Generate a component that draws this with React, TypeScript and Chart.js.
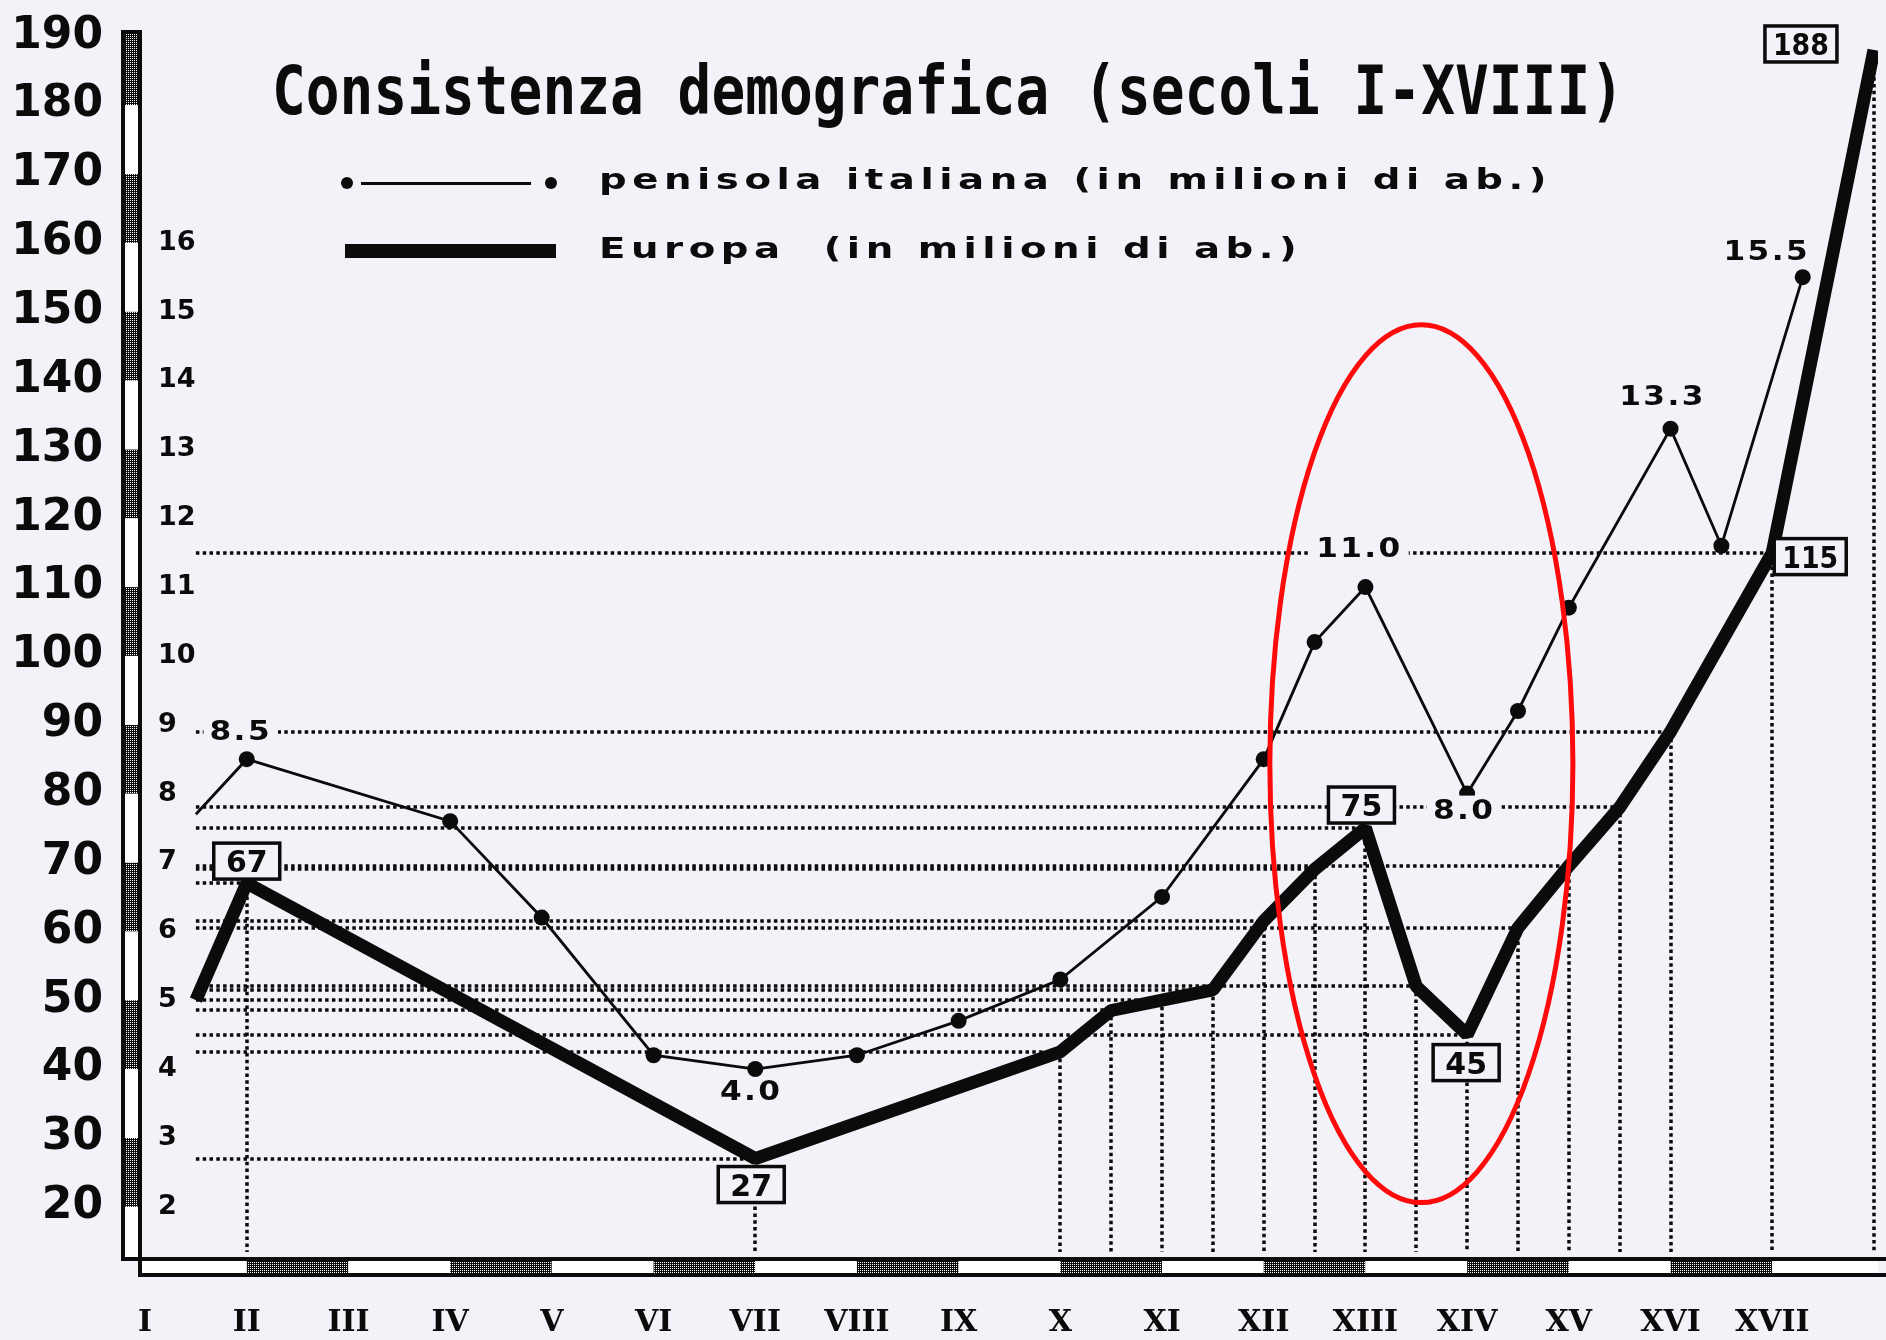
import { useEffect, useRef } from "react";
import { Chart, registerables } from "chart.js";

Chart.register(...registerables);

const CANVAS_W = 1886;
const CANVAS_H = 1340;

// ---------------- data ----------------
const centuryLabels = ["I", "II", "III", "IV", "V", "VI", "VII", "VIII", "IX", "X", "XI", "XII", "XIII", "XIV", "XV", "XVI", "XVII"];
const centuryTicks = [1, 2, 3, 4, 5, 6, 7, 8, 9, 10, 11, 12, 13, 14, 15, 16, 17];
const europeAxisTicks = [20, 30, 40, 50, 60, 70, 80, 90, 100, 110, 120, 130, 140, 150, 160, 170, 180, 190];
const italyAxisTicks = [2, 3, 4, 5, 6, 7, 8, 9, 10, 11, 12, 13, 14, 15, 16];

const europaCentury = [1.5, 2, 7, 10, 10.5, 11, 11.5, 12, 12.5, 13, 13.5, 14, 14.5, 15, 15.5, 16, 17, 18];
const europaMillions = [50, 67, 27, 42.5, 48.5, 50, 51.5, 61.5, 69, 75, 52, 45, 60.5, 69.5, 78, 89, 115, 188];
const europaLabelledPoints = [1, 2, 9, 11, 16, 17];

const italiaCentury = [1.5, 2, 4, 4.9, 6, 7, 8, 9, 10, 11, 12, 12.5, 13, 14, 14.5, 15, 16, 16.5, 17.3];
const italiaMillions = [7.7, 8.5, 7.6, 6.2, 4.2, 4.0, 4.2, 4.7, 5.3, 6.5, 8.5, 10.2, 11.0, 8.0, 9.2, 10.7, 13.3, 11.6, 15.5];
const italiaLabelledPoints = [1, 5, 12, 13, 16, 18];

const highlightCenturies = [12.06, 15.04];
const highlightMillions = [20.6, 148.1];

const chartTitle = "Consistenza demografica (secoli I-XVIII)";
const italiaSeriesName = "penisola italiana (in milioni di ab.)";
const europaSeriesName = "Europa  (in milioni di ab.)";

// ---------------- styles ----------------
const BG = "#f3f2f8";
const INK = "#0b0b0b";
const MONO = "'DejaVu Sans Mono', monospace";
const SANS = "'DejaVu Sans', sans-serif";
const SERIF = "'DejaVu Serif', serif";

const europaLabelOffsets: Record<number, [number, number]> = {
  1: [0, -22], 2: [-4, 26], 9: [-4, -23], 11: [-1, 28], 16: [38, 4], 17: [-73, -6],
};
const italiaLabelOffsets: Record<number, [number, number]> = {
  1: [-6, -29], 5: [-4, 21], 12: [-6, -40], 13: [-3, 15], 16: [-8, -34], 18: [-36, -27],
};

function makeChecker(ctx: CanvasRenderingContext2D) {
  const c = document.createElement("canvas");
  c.width = 4;
  c.height = 4;
  const g = c.getContext("2d")!;
  g.fillStyle = INK;
  g.fillRect(0, 0, 4, 4);
  g.fillStyle = "#ffffff";
  g.fillRect(0, 0, 1, 1);
  g.fillRect(2, 2, 1, 1);
  g.fillRect(0, 2, 1, 1);
  g.fillRect(2, 0, 1, 1);
  return ctx.createPattern(c, "repeat")!;
}

function setSpacing(ctx: any, px: number) {
  ctx.letterSpacing = px + "px";
}

const decorPlugin = {
  id: "decor",
  beforeDraw(chart: any) {
    const { ctx, width, height } = chart;
    ctx.save();
    ctx.fillStyle = BG;
    ctx.fillRect(0, 0, width, height);
    ctx.restore();
  },
  beforeDatasetsDraw(chart: any) {
    const { ctx, chartArea: a } = chart;
    const xs = chart.scales.x;
    const ys = chart.scales.y;
    const pattern = makeChecker(ctx);
    const B = 4;
    ctx.save();
    // left bar
    const L = a.left - 21;
    const R = a.left;
    const yb = [ys.min, ...europeAxisTicks.slice(0, -1), ys.max];
    for (let i = 0; i < yb.length - 1; i++) {
      const lo = yb[i];
      const hi = yb[i + 1];
      const checker = i > 0 && Math.round(lo / 10) % 2 === 0;
      ctx.fillStyle = checker ? pattern : "#ffffff";
      const t = ys.getPixelForValue(hi);
      const b = ys.getPixelForValue(lo);
      ctx.fillRect(L, t, R - L, b - t);
    }
    ctx.fillStyle = INK;
    ctx.fillRect(L, a.top, B, a.bottom - a.top);
    ctx.fillRect(R - B, a.top, B, a.bottom - a.top);
    ctx.fillRect(L, a.top, R - L, 3);
    // bottom bar
    const T = a.bottom;
    const Bt = a.bottom + 20;
    const xb = [xs.min, ...centuryTicks, centuryTicks.length + 1, xs.max];
    for (let i = 0; i < xb.length - 1; i++) {
      const lo = xb[i];
      const hi = xb[i + 1];
      const checker = i > 0 && Math.round(lo) % 2 === 0 && lo <= centuryTicks.length;
      ctx.fillStyle = checker ? pattern : "#ffffff";
      const l = Math.max(xs.getPixelForValue(lo), R);
      const r = xs.getPixelForValue(hi);
      ctx.fillRect(l, T, r - l, Bt - T);
    }
    ctx.fillStyle = INK;
    ctx.fillRect(L, T, chart.width - L, B);
    ctx.fillRect(R - B, Bt - B, chart.width - (R - B), B);
    ctx.fillRect(R - B, T, B, Bt - T);

    // dotted reference lines from the Europe series
    ctx.strokeStyle = INK;
    ctx.lineWidth = 3.5;
    ctx.setLineDash([3.5, 3.3]);
    const x0 = xs.getPixelForValue(europaCentury[0]);
    const n = europaCentury.length;
    for (let i = 1; i < n; i++) {
      const px = Math.round(xs.getPixelForValue(europaCentury[i]));
      const py = Math.round(ys.getPixelForValue(europaMillions[i]));
      ctx.beginPath();
      ctx.moveTo(px, py);
      ctx.lineTo(px, a.bottom - 5);
      ctx.stroke();
      if (i < n - 1) {
        ctx.beginPath();
        ctx.moveTo(x0, py);
        ctx.lineTo(px, py);
        ctx.stroke();
      }
    }
    ctx.restore();
  },
  afterDatasetsDraw(chart: any) {
    const { ctx } = chart;
    const xs = chart.scales.x;
    const ys = chart.scales.y;
    const y2 = chart.scales.y2;
    ctx.save();
    // Europe boxed labels
    europaLabelledPoints.forEach((i) => {
      const text = String(europaMillions[i]);
      const [dx, dy] = europaLabelOffsets[i] || [0, -25];
      const cx = xs.getPixelForValue(europaCentury[i]) + dx;
      const cy = ys.getPixelForValue(europaMillions[i]) + dy;
      ctx.font = `bold 30px ${SANS}`;
      setSpacing(ctx, 0);
      const tw = ctx.measureText(text).width;
      const bw = text.length > 2 ? 72 : 66;
      const bh = 36;
      const sx = Math.min(1, (bw - 16) / tw);
      ctx.fillStyle = BG;
      ctx.fillRect(cx - bw / 2, cy - bh / 2, bw, bh);
      ctx.strokeStyle = INK;
      ctx.lineWidth = 3.5;
      ctx.setLineDash([]);
      ctx.strokeRect(cx - bw / 2, cy - bh / 2, bw, bh);
      ctx.save();
      ctx.translate(cx - (tw * sx) / 2, cy + 11);
      ctx.scale(sx, 1);
      ctx.fillStyle = INK;
      ctx.textAlign = "left";
      ctx.textBaseline = "alphabetic";
      ctx.fillText(text, 0, 0);
      ctx.restore();
    });
    // Italy value labels
    italiaLabelledPoints.forEach((i) => {
      const text = italiaMillions[i].toFixed(1);
      const [dx, dy] = italiaLabelOffsets[i] || [0, -30];
      const cx = xs.getPixelForValue(italiaCentury[i]) + dx;
      const cy = y2.getPixelForValue(italiaMillions[i]) + dy;
      ctx.font = `bold 26px ${SANS}`;
      setSpacing(ctx, 2);
      const sx = 1.2;
      const tw = ctx.measureText(text).width * sx;
      ctx.fillStyle = BG;
      ctx.fillRect(cx - tw / 2 - 6, cy - 13, tw + 12, 26);
      ctx.save();
      ctx.translate(cx - tw / 2, cy + 10);
      ctx.scale(sx, 1);
      ctx.fillStyle = INK;
      ctx.textAlign = "left";
      ctx.textBaseline = "alphabetic";
      ctx.fillText(text, 0, 0);
      ctx.restore();
    });
    setSpacing(ctx, 0);
    ctx.restore();
  },
  afterDraw(chart: any) {
    const { ctx } = chart;
    const xs = chart.scales.x;
    const ys = chart.scales.y;
    ctx.save();
    // title
    ctx.font = `bold 67px ${MONO}`;
    setSpacing(ctx, 0);
    const tw = ctx.measureText(chartTitle).width;
    ctx.save();
    ctx.translate(272, 114);
    ctx.scale(1352 / tw, 1);
    ctx.fillStyle = INK;
    ctx.textAlign = "left";
    ctx.textBaseline = "alphabetic";
    ctx.fillText(chartTitle, 0, 0);
    ctx.restore();

    // legend
    const ds = chart.data.datasets;
    ctx.fillStyle = INK;
    ctx.strokeStyle = INK;
    ctx.beginPath();
    ctx.arc(347, 183, 6, 0, Math.PI * 2);
    ctx.fill();
    ctx.beginPath();
    ctx.arc(551, 183, 6, 0, Math.PI * 2);
    ctx.fill();
    ctx.fillRect(361, 182, 170, 3);
    ctx.fillRect(345, 244, 211, 14);
    ctx.font = `bold 28px ${SANS}`;
    setSpacing(ctx, 4);
    const w0 = ctx.measureText(ds[0].label).width;
    const lsx = 953 / w0;
    ctx.textAlign = "left";
    ctx.textBaseline = "alphabetic";
    ctx.save();
    ctx.translate(599, 189);
    ctx.scale(lsx, 1);
    ctx.fillText(ds[0].label, 0, 0);
    ctx.restore();
    ctx.save();
    ctx.translate(599, 258);
    ctx.scale(lsx, 1);
    ctx.fillText(ds[1].label, 0, 0);
    ctx.restore();
    setSpacing(ctx, 0);

    // red highlight ellipse
    const ex0 = xs.getPixelForValue(highlightCenturies[0]);
    const ex1 = xs.getPixelForValue(highlightCenturies[1]);
    const ey0 = ys.getPixelForValue(highlightMillions[1]);
    const ey1 = ys.getPixelForValue(highlightMillions[0]);
    ctx.beginPath();
    ctx.ellipse((ex0 + ex1) / 2, (ey0 + ey1) / 2, (ex1 - ex0) / 2, (ey1 - ey0) / 2, 0, 0, Math.PI * 2);
    ctx.strokeStyle = "#ff0a0a";
    ctx.lineWidth = 5;
    ctx.stroke();
    ctx.restore();
  },
};

export default function App() {
  const ref = useRef<HTMLCanvasElement>(null);
  useEffect(() => {
    document.body.style.margin = "0";
    const canvas = ref.current!;
    const chart = new Chart(canvas, {
      type: "line",
      data: {
        datasets: [
          {
            label: italiaSeriesName,
            data: italiaCentury.map((c, i) => ({ x: c, y: italiaMillions[i] })),
            yAxisID: "y2",
            borderColor: INK,
            backgroundColor: INK,
            borderWidth: 2.8,
            pointRadius: (c: any) => (c.dataIndex === 0 ? 0 : 8),
            pointBackgroundColor: INK,
            pointBorderWidth: 0,
            tension: 0,
            order: 0,
          },
          {
            label: europaSeriesName,
            data: europaCentury.map((c, i) => ({ x: c, y: europaMillions[i] })),
            yAxisID: "y",
            borderColor: INK,
            backgroundColor: INK,
            borderWidth: 13,
            borderJoinStyle: "bevel",
            pointRadius: 0,
            tension: 0,
            order: 1,
          },
        ],
      } as any,
      options: {
        responsive: false,
        animation: false,
        devicePixelRatio: 1,
        layout: { padding: { top: 30, left: 0, right: 0, bottom: 0 } },
        plugins: { legend: { display: false }, tooltip: { enabled: false }, title: { display: false } },
        scales: {
          x: {
            type: "linear",
            min: 0.97,
            max: 18.04,
            afterBuildTicks: (s: any) => {
              s.ticks = centuryTicks.map((v) => ({ value: v }));
            },
            afterFit: (s: any) => {
              s.height = 83;
              s.paddingLeft = 0;
              s.paddingRight = 0;
            },
            ticks: {
              autoSkip: false,
              maxRotation: 0,
              padding: 48,
              color: INK,
              font: { family: SERIF, weight: "bold", size: 30 },
              callback: (v: any) => centuryLabels[centuryTicks.indexOf(Number(v))] ?? "",
            },
            grid: { display: false, drawTicks: false },
            border: { display: false },
          },
          y: {
            type: "linear",
            position: "left",
            weight: 1,
            min: 12.7,
            max: 190.9,
            afterBuildTicks: (s: any) => {
              s.ticks = europeAxisTicks.map((v) => ({ value: v }));
            },
            afterFit: (s: any) => {
              s.width = 142;
              s.paddingTop = 0;
              s.paddingBottom = 0;
            },
            ticks: {
              autoSkip: false,
              padding: 39,
              color: INK,
              font: { family: SANS, weight: "bold", size: 44 },
            },
            grid: { display: false, drawTicks: false },
            border: { display: false },
          },
          y2: {
            type: "linear",
            position: "left",
            weight: 0,
            min: 1.27,
            max: 19.09,
            afterBuildTicks: (s: any) => {
              s.ticks = italyAxisTicks.map((v) => ({ value: v }));
            },
            afterFit: (s: any) => {
              s.width = 0;
              s.paddingTop = 0;
              s.paddingBottom = 0;
            },
            ticks: {
              autoSkip: false,
              mirror: true,
              padding: 16,
              color: INK,
              font: { family: SANS, weight: "bold", size: 27 },
            },
            grid: { display: false, drawTicks: false },
            border: { display: false },
          },
        },
      } as any,
      plugins: [decorPlugin],
    });
    return () => chart.destroy();
  }, []);
  return (
    <div style={{ position: "fixed", left: 0, top: 0, width: CANVAS_W, height: CANVAS_H }}>
      <canvas ref={ref} width={CANVAS_W} height={CANVAS_H} style={{ display: "block", width: CANVAS_W, height: CANVAS_H }} />
    </div>
  );
}
